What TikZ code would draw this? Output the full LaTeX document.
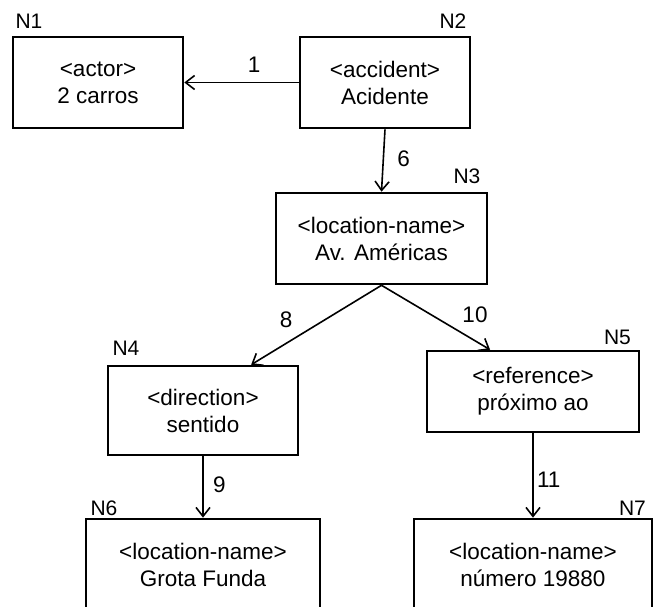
\documentclass[tikz,border=0pt]{standalone}
\usepackage{fontspec}
\setmainfont{Liberation Sans}
\usetikzlibrary{calc,arrows.meta}

\begin{document}
\begin{tikzpicture}[x=1pt,y=-1pt,>={Straight Barb[length=9pt,width=14pt]},
        every node/.style={font=\fontsize{22.5}{27}\selectfont},
        box/.style={draw,line width=2.6pt,align=center,inner sep=0pt},
        nlabel/.style={font=\fontsize{21}{25}\selectfont,inner sep=0pt},
        rel/.style={->,line width=1.6pt}]
        \useasboundingbox (0,0) rectangle (656,607);
        \clip (0,0) rectangle (656,607);
        % boxes
        \node[box,minimum width=170pt,minimum height=91pt] (n1) at (98,82.5) {<actor>\\2 carros};
        \node[box,minimum width=170pt,minimum height=91pt] (n2) at (385,82.5) {<accident>\\Acidente};
        \node[box,minimum width=211pt,minimum height=91pt] (n3) at (381.5,238.5) {<location-name>\\Av. Américas};
        \node[box,minimum width=190pt,minimum height=89pt] (n4) at (203,410.5) {<direction>\\sentido};
        \node[box,minimum width=212pt,minimum height=81pt] (n5) at (533,391.5) {<reference>\\próximo ao};
        \node[box,minimum width=234pt,minimum height=91pt] (n6) at (203,564.5) {<location-name>\\Grota Funda};
        \node[box,minimum width=238pt,minimum height=91pt] (n7) at (533,564.5) {<location-name>\\número 19880};
        % node ids
        \node[nlabel] (l1) at (29,21) {N1};
        \node[nlabel] (l2) at (453,21.5) {N2};
        \node[nlabel] (l3) at (467,176) {N3};
        \node[nlabel] (l4) at (126,348) {N4};
        \node[nlabel] (l5) at (617.5,337.5) {N5};
        \node[nlabel] (l6) at (104,508) {N6};
        \node[nlabel] (l7) at (632.5,508) {N7};
        % relations
        \coordinate (t4) at ($(n4.north)!0.5!(n4.north east)$);
        \coordinate (t5) at ($(n5.north west)!0.6!(n5.north)$);
        \draw[rel] (n2.west) -- (n1.east) node[pos=0.39,above=6pt] (e1) {1};
        \draw[rel] (n2.south) -- (n3.north) node[pos=0.48,right=10pt] (e6) {6};
        \draw[rel] (n3.south) -- (t4) node[pos=0.43,left=29pt] (e8) {8};
        \draw[rel] (n3.south) -- (t5) node[pos=0.45,right=28pt] (e10) {10};
        \draw[rel] (n4.south) -- (n6.north) node[pos=0.47,right=6pt] (e9) {9};
        \draw[rel] (n5.south) -- (n7.north) node[pos=0.55,right=0pt] (e11) {11};
\end{tikzpicture}
\end{document}
